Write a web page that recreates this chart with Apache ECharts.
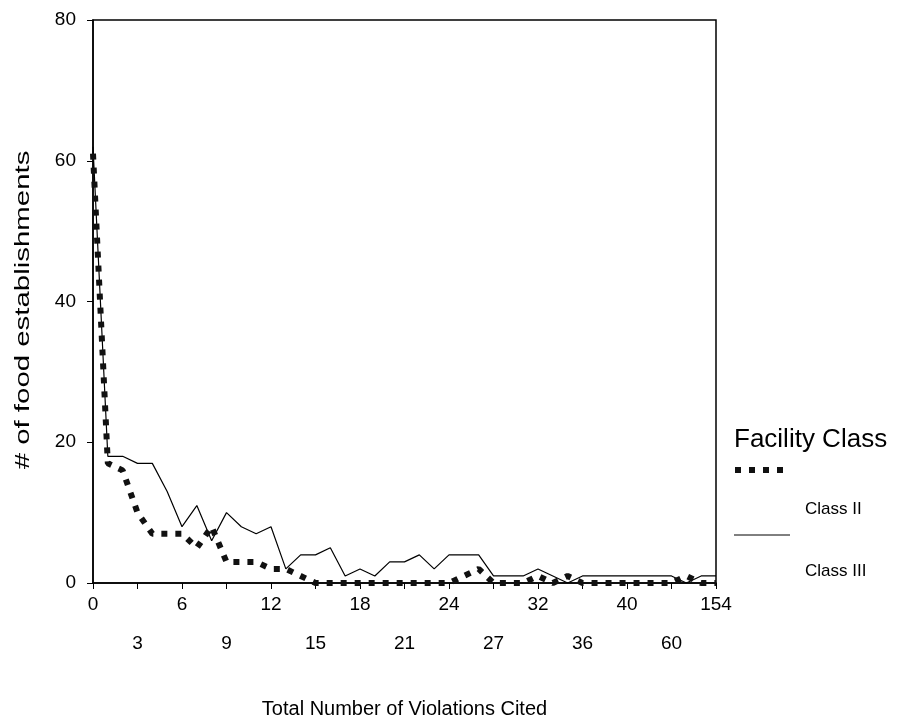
<!DOCTYPE html>
<html>
<head>
	<meta charset="utf-8"/>
	<title>Violations</title>
	<style>
		* { margin: 0; padding: 0; }
		html, body { width: 100%; height: 100%; background: #fff; }
		#main { width: 908px; height: 724px; }
	</style>
</head>
<body>
	<div id="main"></div>
	<script src="https://cdn.jsdelivr.net/npm/echarts@6/dist/echarts.min.js"></script>
	<script>
		// x categories: number of violations cited
		var violations = ['0','1','2','3','4','5','6','7','8','9','10','11','12','13','14','15','16','17','18','19',
			'20','21','22','23','24','25','26','27','28','30','32','33','34','36','37','38','40','42','46','60','72','98','154'];
		var classII = [61,17,16,10,7,7,7,5,8,3,3,3,2,2,1,0,0,0,0,0,
			0,0,0,0,0,1,2,0,0,0,1,0,1,0,0,0,0,0,0,0,1,0,0];
		var classIII = [62,18,18,17,17,13,8,11,6,10,8,7,8,2,4,4,5,1,2,1,
			3,3,4,2,4,4,4,1,1,1,2,1,0,1,1,1,1,1,1,1,0,1,1];
		var yTicks = [0, 20, 40, 60, 80];

		var font = 'Liberation Sans, Arial, sans-serif';
		var myChart = echarts.init(document.getElementById('main'));

		var option = {
			animation: false,
			grid: {
				left: 93, right: 192, top: 20, bottom: 141,
				containLabel: false, outerBoundsMode: 'none',
				show: true, borderColor: '#000', borderWidth: 1.5, backgroundColor: 'transparent'
			},
			xAxis: [{
				type: 'category',
				data: violations,
				boundaryGap: false,
				axisLine: { lineStyle: { color: '#000', width: 1.5 } },
				axisTick: { show: true, length: 6, interval: function (i) { return i % 3 === 0; }, lineStyle: { color: '#000' } },
				axisLabel: { interval: function (i) { return i % 6 === 0; }, margin: 12, color: '#000', fontSize: 19, fontFamily: font },
				name: 'Total Number of Violations Cited',
				nameLocation: 'middle',
				nameGap: 116,
				nameTextStyle: { color: '#000', fontSize: 20, fontFamily: font }
			}, {
				// second row of tick labels
				type: 'category',
				data: violations,
				boundaryGap: false,
				position: 'bottom',
				axisLine: { show: false },
				axisTick: { show: false },
				axisLabel: { interval: function (i) { return i % 6 === 3; }, margin: 51, color: '#000', fontSize: 19, fontFamily: font }
			}],
			yAxis: {
				type: 'value',
				min: 0, max: 80, interval: 20,
				axisLine: { show: true, lineStyle: { color: '#000', width: 1.5 } },
				axisTick: { show: true, length: 6, lineStyle: { color: '#000' } },
				splitLine: { show: false },
				axisLabel: {
					margin: 17, color: '#000', fontSize: 19, fontFamily: font,
					formatter: function (v) { return yTicks.indexOf(v) >= 0 ? String(v) : ''; }
				}
			},
			series: [{
				name: 'Class II',
				type: 'line',
				data: classII,
				showSymbol: false,
				lineStyle: { color: '#111', width: 6, type: [6, 8], cap: 'butt' },
				z: 3
			}, {
				name: 'Class III',
				type: 'line',
				data: classIII,
				showSymbol: false,
				lineStyle: { color: '#000', width: 1.2 },
				z: 2
			}],
			graphic: [
				// y axis title (stretched like the scan)
				{ type: 'text', x: 23, y: 310, rotation: Math.PI / 2, scaleX: 1.4,
					style: { text: '# of food establishments', fontSize: 21, fontFamily: font, fill: '#000', align: 'center', verticalAlign: 'middle' } },
				// legend
				{ type: 'text', left: 734, top: 427, style: { text: 'Facility Class', fontSize: 26, fontFamily: font, fill: '#000' } },
				{ type: 'line', shape: { x1: 735, y1: 470, x2: 788, y2: 470 }, style: { stroke: '#111', lineWidth: 6, lineDash: [6, 8] } },
				{ type: 'text', left: 805, top: 501, style: { text: 'Class II', fontSize: 17, fontFamily: font, fill: '#000' } },
				{ type: 'line', shape: { x1: 734, y1: 535, x2: 790, y2: 535 }, style: { stroke: '#000', lineWidth: 1 } },
				{ type: 'text', left: 805, top: 563, style: { text: 'Class III', fontSize: 17, fontFamily: font, fill: '#000' } }
			]
		};

		myChart.setOption(option);
	</script>
</body>
</html>
